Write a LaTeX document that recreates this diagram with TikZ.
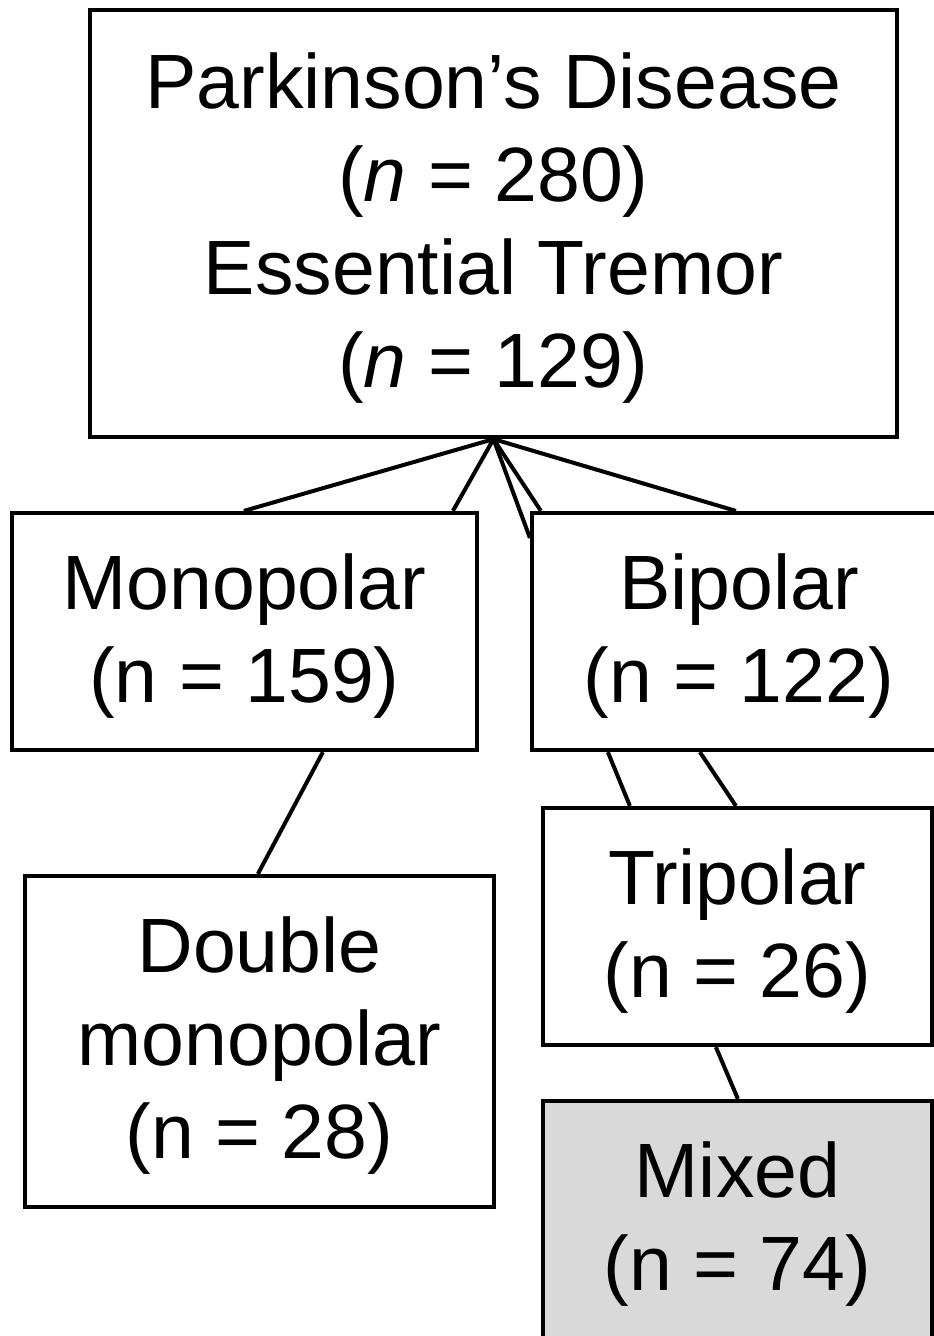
\documentclass[tikz,border=0pt]{standalone}
\usepackage{fontspec}
\setmainfont{Liberation Sans}
\newcommand\tstrut{\rule{0pt}{64pt}}
\begin{document}
\begin{tikzpicture}[x=1pt,y=-1pt,
  box/.style={draw=black,line width=4.2pt,rectangle,inner sep=0pt,align=center,
    font=\fontsize{77}{93}\selectfont},
  link/.style={draw=black,line width=4pt}]
\useasboundingbox (0,0) rectangle (934,1336);
\clip (0,0) rectangle (934,1336);
\fill[white] (0,0) rectangle (934,1336);
\node[box,minimum width=807pt,minimum height=427pt] (top) at (493.5,223.5)
  {\tstrut Parkinson’s Disease\\(\textit{n} = 280)\\Essential Tremor\\(\textit{n} = 129)};
\node[box,minimum width=465pt,minimum height=237pt] (mono) at (244.5,631.5)
  {\tstrut Monopolar\\(n = 159)};
\node[box,minimum width=414pt,minimum height=237pt] (bip) at (739,631.5)
  {\tstrut Bipolar\\(n = 122)};
\node[box,minimum width=469pt,minimum height=331pt] (dbl) at (259.5,1041.5)
  {\tstrut Double\\monopolar\\(n = 28)};
\node[box,minimum width=389pt,minimum height=237pt] (trip) at (737.5,926.5)
  {\tstrut Tripolar\\(n = 26)};
\node[box,fill=black!15,minimum width=389pt,minimum height=238pt] (mix) at (737.5,1220)
  {\tstrut Mixed\\(n = 74)};
\draw[link] ([xshift=234pt]mono.north west) -- (top.south) -- ([xshift=443pt]mono.north west);
\draw[link] ([xshift=11pt]bip.north west) -- (top.south) -- ([xshift=206pt]bip.north west);
\draw[link] (top.south) -- ([yshift=-27pt]bip.north west);
\draw[link] ([xshift=313pt]mono.south west) -- ([xshift=235pt]dbl.north west);
\draw[link] ([xshift=78pt]bip.south west) -- ([xshift=89pt]trip.north west);
\draw[link] ([xshift=170pt]bip.south west) -- ([xshift=195pt]trip.north west);
\draw[link] ([xshift=175pt]trip.south west) -- ([xshift=197pt]mix.north west);
\end{tikzpicture}
\end{document}
